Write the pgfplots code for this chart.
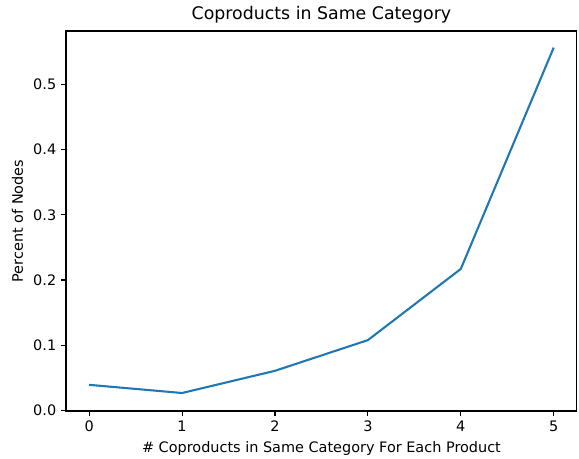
\documentclass[border=0pt]{standalone}
\usepackage{pgfplots}
\pgfplotsset{compat=1.18}
\usepackage{fontspec}
\setmainfont{DejaVu Sans}
\definecolor{mplblue}{HTML}{1F77B4}
\begin{document}
\begin{tikzpicture}
\path[use as bounding box] (-47.5pt,-34.56pt) rectangle (369.4pt,295.9pt);
\begin{axis}[
  at={(0,0)}, anchor=south west,
  scale only axis,
  width=367.9pt, height=273.6pt,
  xmin=-0.25, xmax=5.25,
  ymin=-0.0005, ymax=0.5815,
  xtick={0,1,2,3,4,5},
  ytick={0,0.1,0.2,0.3,0.4,0.5},
  yticklabel style={/pgf/number format/.cd,fixed,fixed zerofill,precision=1},
  /pgf/number format/assume math mode=true,
  tick align=outside,
  major tick length=3.5pt,
  tick style={black, line width=0.8pt},
  axis line style={line width=0.8pt},
  xtick pos=bottom, ytick pos=left,
  ticklabel style={font=\fontsize{10.4}{12}\selectfont},
  title={Coproducts in Same Category},
  title style={font=\fontsize{12.5}{14}\selectfont, yshift=-4pt},
  xlabel={\# Coproducts in Same Category For Each Product},
  ylabel={Percent of Nodes},
  ylabel shift=0.5pt,
  label style={font=\fontsize{10.4}{12}\selectfont},
]
\addplot[mplblue, line width=1.5pt] coordinates {
(0,0.0395) (1,0.027) (2,0.061) (3,0.108) (4,0.217) (5,0.556)
};
\end{axis}
\end{tikzpicture}
\end{document}
